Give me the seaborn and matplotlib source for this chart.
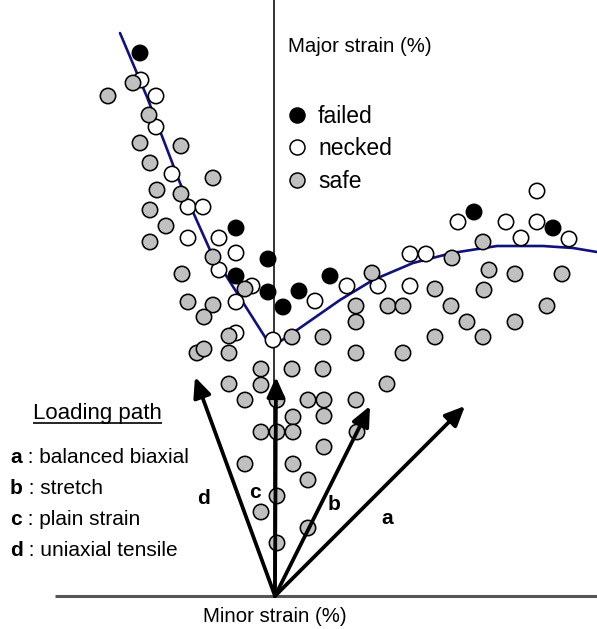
import matplotlib
matplotlib.use("Agg")
import matplotlib.pyplot as plt
from matplotlib.lines import Line2D
import seaborn as sns
import pandas as pd

# --- data (minor strain, major strain), arbitrary units ---
failed_minor = [-134, -38, -6, -38, -6, 25, 56, 9, 200, 279]
failed_major = [543, 368, 337, 320, 304, 305, 320, 289, 384, 368]

necked_minor = [-133, -118, -118, -102, -86, -71, -86, -55, -38, -55, -22, -38, -38,
                -1, 41, 73, 104, 136, 152, 136, 184, 232, 263, 263, 247, 295]
necked_major = [516, 500, 469, 422, 389, 389, 358, 358, 343, 326, 310, 294, 263,
                256, 295, 310, 310, 342, 342, 310, 374, 374, 374, 405, 358, 357]

safe_minor = [-141, -166, -125, -134, -93, -124, -61, -117, -93, -124, -108, -124, -61,
              -92, -29, -86, -61, -70, -45, -77, -70, -45, 18, 49, -13, 18, 49, -45,
              -13, -29, 3, 34, 50, 19, 50, -13, 3, 19, 50, -29, 19, 34, 3, -13, 34, 3,
              82, 114, 129, 82, 82, 129, 98, 113, 82, 83, 161, 209, 209, 178, 215, 241,
              288, 161, 210, 177, 273, 193, 241]
safe_major = [513, 500, 481, 453, 450, 433, 418, 406, 402, 386, 370, 354, 339,
              322, 307, 294, 291, 279, 260, 243, 247, 243, 259, 259, 227, 227, 227, 212,
              211, 196, 196, 196, 196, 179, 180, 164, 164, 164, 149, 132, 132, 116, 100, 84, 68, 53,
              290, 290, 290, 274, 243, 243, 323, 212, 196, 164, 259, 259, 354, 338, 326, 322,
              322, 307, 306, 290, 290, 274, 274]

# forming limit curve
flc_minor = [-154, -127, -94, -64, -37, -9, -2, 23, 66, 99, 139, 178, 223, 269, 299, 323]
flc_major = [563, 499, 413, 346, 303, 259, 249, 266, 296, 316, 333, 343, 350, 350, 348, 344]

# loading paths
path_names = ["a", "b", "c", "d"]
path_desc = ["balanced biaxial", "stretch", "plain strain", "uniaxial tensile"]
path_tip_minor = [191, 96, 2, -79]
path_tip_major = [190, 190, 219, 219]
path_lab_minor = [113, 60, -19, -71]
path_lab_major = [78, 92, 104, 98]

colors = {"failed": "black", "necked": "white", "safe": "#c0c0c0"}

# necked first, safe last (grey points sit on top where they overlap)
df = pd.concat([
    pd.DataFrame({"minor": necked_minor, "major": necked_major, "state": "necked"}),
    pd.DataFrame({"minor": failed_minor, "major": failed_major, "state": "failed"}),
    pd.DataFrame({"minor": safe_minor, "major": safe_major, "state": "safe"}),
], ignore_index=True)

sns.set_style("white")
plt.rcParams["font.family"] = ["Liberation Sans", "DejaVu Sans"]
plt.rcParams["text.color"] = "black"

fig = plt.figure(figsize=(5.97, 6.29), dpi=100)
ax = fig.add_axes([0, 0, 1, 1])
ax.set_xlim(-274, 323)
ax.set_ylim(-33, 596)
ax.axis("off")

# axes of the strain diagram
ax.vlines(0, 0, 640, color="#111111", lw=1.2, zorder=1)
ax.hlines(0, -219, 323, color="#555555", lw=2.2, zorder=1)

# forming limit curve
sns.lineplot(x=flc_minor, y=flc_major, color="#10107f", lw=1.9, sort=False,
             ax=ax, zorder=2)

# measured points
sns.scatterplot(data=df, x="minor", y="major", hue="state", palette=colors,
                s=122, edgecolor="black", linewidth=1.15, legend=False,
                ax=ax, zorder=3)

# loading path arrows
for tx, ty in zip(path_tip_minor, path_tip_major):
    ax.annotate("", xy=(tx, ty), xytext=(1, 0),
                arrowprops=dict(arrowstyle="-|>,head_length=0.6,head_width=0.27",
                                lw=2.7, color="black", mutation_scale=20,
                                shrinkA=0, shrinkB=0), zorder=4)
for name, lx, ly in zip(path_names, path_lab_minor, path_lab_major):
    ax.text(lx, ly, name, fontsize=15, fontweight="bold", color="black",
            ha="center", va="center")

# legend
handles = [Line2D([], [], marker="o", ls="", markersize=10.8, markerfacecolor=colors[s],
                  markeredgecolor="black", markeredgewidth=1.1) for s in ["failed", "necked", "safe"]]
leg = ax.legend(handles, ["failed", "necked", "safe"], loc="center left",
                bbox_to_anchor=(286 / 597, 1 - 149 / 629), frameon=False, fontsize=16.5,
                handlelength=1.0, handletextpad=0.4, labelspacing=0.4, borderpad=0,
                borderaxespad=0)
for txt in leg.get_texts():
    txt.set_color("black")

ax.text(14, 549, "Major strain (%)", fontsize=14.7, color="black", ha="left", va="center")
ax.text(1, -20, "Minor strain (%)", fontsize=14.7, color="black", ha="center", va="center")

# loading path key
title = ax.text(-241, 183, "Loading path", fontsize=16, color="black", ha="left", va="center")
key_major = [133, 102, 71, 40]
for name, desc, ky in zip(path_names, path_desc, key_major):
    t = ax.text(-264, ky, name, fontsize=15, fontweight="bold", color="black",
                ha="left", va="baseline")
    ax.annotate(" : " + desc, xy=(1, 0), xycoords=t, fontsize=15, color="black",
                ha="left", va="bottom")

fig.canvas.draw()
bb = title.get_window_extent().transformed(ax.transData.inverted())
ax.hlines(bb.y0 + 1, bb.x0, bb.x1, color="black", lw=1.2)

fig.savefig("out.png", dpi=100)
